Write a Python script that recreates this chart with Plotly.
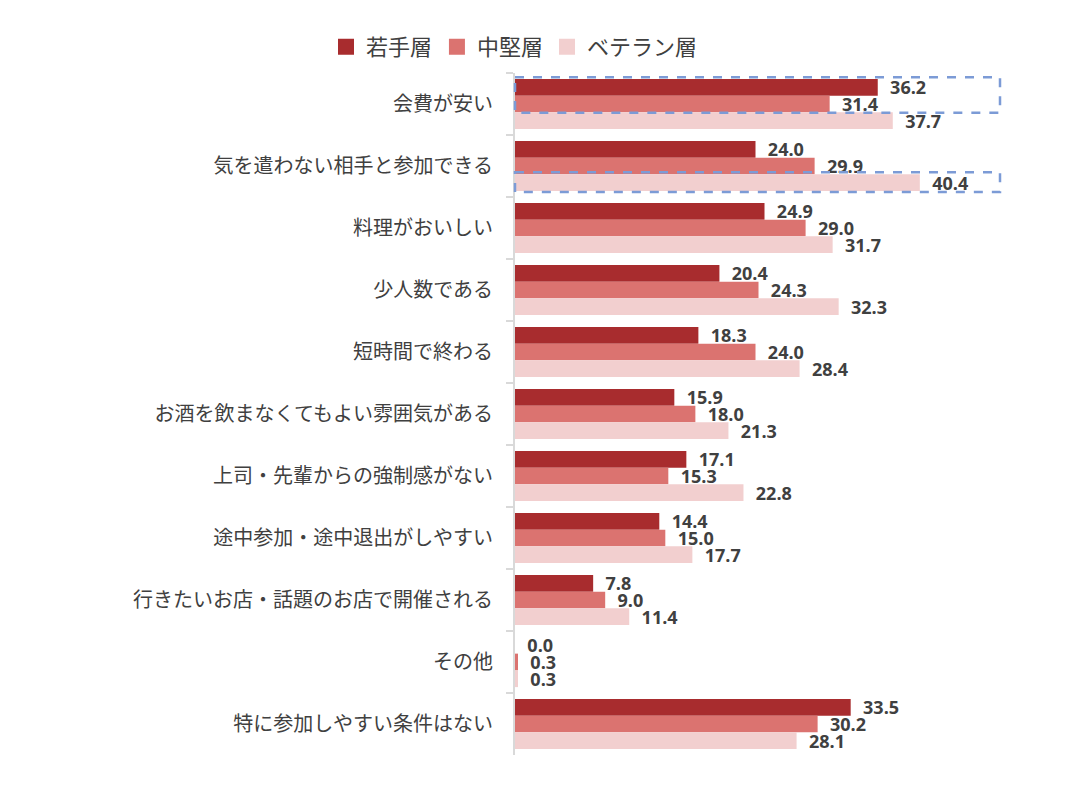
import plotly.graph_objects as go

# -----------------------------
# Data
# -----------------------------
categories = [
    "会費が安い",
    "気を遣わない相手と参加できる",
    "料理がおいしい",
    "少人数である",
    "短時間で終わる",
    "お酒を飲まなくてもよい雰囲気がある",
    "上司・先輩からの強制感がない",
    "途中参加・途中退出がしやすい",
    "行きたいお店・話題のお店で開催される",
    "その他",
    "特に参加しやすい条件はない",
]
series_names = ["若手層", "中堅層", "ベテラン層"]
young = [36.2, 24.0, 24.9, 20.4, 18.3, 15.9, 17.1, 14.4, 7.8, 0.0, 33.5]
middle = [31.4, 29.9, 29.0, 24.3, 24.0, 18.0, 15.3, 15.0, 9.0, 0.3, 30.2]
veteran = [37.7, 40.4, 31.7, 32.3, 28.4, 21.3, 22.8, 17.7, 11.4, 0.3, 28.1]

COLORS = ["#A82C2E", "#DB7370", "#F2CFCF"]
FONT = "Noto Sans CJK JP"
LEGEND_IDS = ["legend", "legend2", "legend3"]
LEGEND_X = [0.2950, 0.3979, 0.5000]

# -----------------------------
# Figure
# -----------------------------
fig = go.Figure()

for name, vals, color, lg in zip(series_names, [young, middle, veteran], COLORS, LEGEND_IDS):
    fig.add_trace(
        go.Bar(
            y=categories,
            x=vals,
            name=name,
            orientation="h",
            marker=dict(color=color, line=dict(width=0)),
            text=[f"\u00a0\u00a0{v:.1f}" for v in vals],
            textposition="outside",
            constraintext="none",
            textfont=dict(family="Open Sans", size=18, color="#404040", weight="bold"),
            cliponaxis=False,
            showlegend=False,
        )
    )
    # legend entry with a bigger square swatch
    fig.add_trace(
        go.Scatter(
            x=[None], y=[None],
            mode="markers",
            name=name,
            legend=lg,
            marker=dict(symbol="square", size=17, color=color),
        )
    )

# dashed highlight boxes
box_style = dict(type="rect", xref="x domain", yref="y",
                 line=dict(color="#7C9BD6", width=2.5, dash="dash"),
                 fillcolor="rgba(0,0,0,0)")
fig.add_shape(x0=0, x1=1, y0=-0.43, y1=0.14, **box_style)
fig.add_shape(x0=0, x1=1, y0=1.10, y1=1.42, **box_style)

legend_style = dict(
    orientation="h",
    xref="container", yref="container",
    xanchor="left",
    y=0.951, yanchor="middle",
    font=dict(size=22, color="#404040"),
    itemwidth=30,
    bgcolor="rgba(0,0,0,0)",
)

fig.update_layout(
    width=1078,
    height=795,
    paper_bgcolor="white",
    plot_bgcolor="white",
    barmode="group",
    bargap=0.19,
    bargroupgap=0,
    margin=dict(l=507, r=86, t=65, b=48, autoexpand=False),
    font=dict(family=FONT, color="#404040"),
    showlegend=True,
    legend=dict(x=LEGEND_X[0], **legend_style),
    legend2=dict(x=LEGEND_X[1], **legend_style),
    legend3=dict(x=LEGEND_X[2], **legend_style),
    xaxis=dict(
        range=[0, 48.4],
        showgrid=False,
        showticklabels=False,
        zeroline=False,
        showline=False,
    ),
    yaxis=dict(
        autorange="reversed",
        showline=True,
        linecolor="#D9D9D9",
        linewidth=2,
        ticks="outside",
        tickson="boundaries",
        ticklen=7,
        tickcolor="#D9D9D9",
        tickwidth=2,
        tickfont=dict(size=20, color="#404040"),
        ticklabelstandoff=16,
    ),
)

fig.write_html("out.html")
